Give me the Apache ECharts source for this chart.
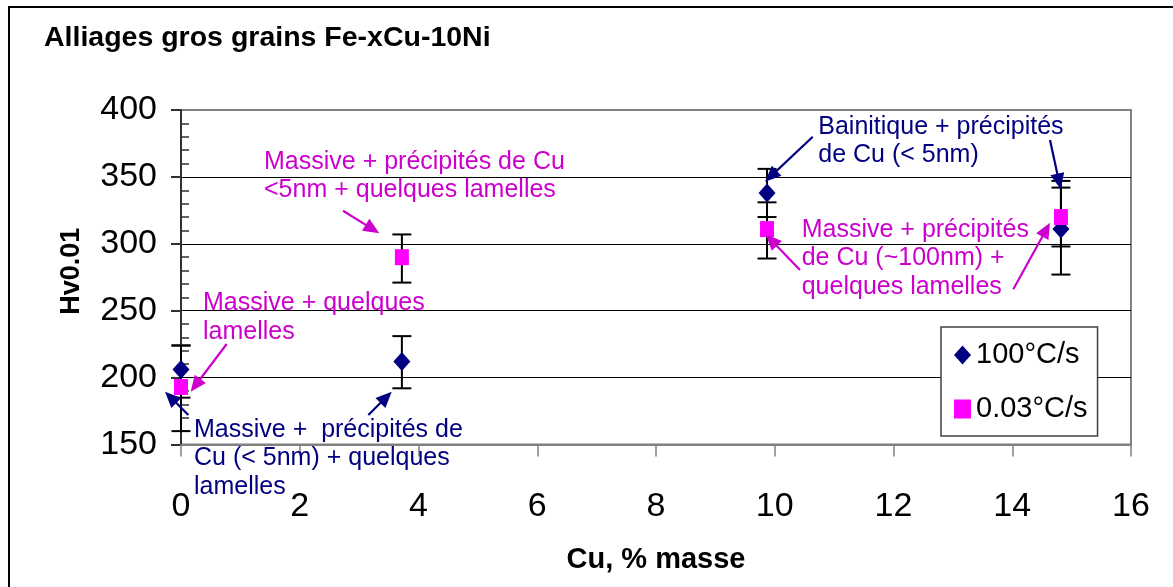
<!DOCTYPE html>
<html>
<head>
<meta charset="utf-8">
<script src="https://cdn.jsdelivr.net/npm/echarts@6/dist/echarts.min.js"></script>
<style>
html,body{margin:0;padding:0;background:#fff;}
#c{width:1173px;height:587px;}
</style>
</head>
<body>
<div id="c"></div>
<script>
// ---- data ----
const xTicks = [0, 2, 4, 6, 8, 10, 12, 14, 16];
const yTicks = [150, 200, 250, 300, 350, 400];

const cuFast = [0, 3.72, 9.87, 14.82];
const hvFast = [206, 212, 338, 311];
const hvFastLow = [185, 192, 320, 277];
const hvFastHigh = [224, 231, 356, 347];

const cuSlow = [0, 3.72, 9.87, 14.82];
const hvSlow = [193, 290, 311, 320];
const hvSlowLow = [160, 271, 289, 298];
const hvSlowHigh = [224, 307, 331, 342];

const seriesNames = ['100°C/s', '0.03°C/s'];

// annotation texts (first-line baseline anchor in data units)
const noteTexts = [
  ['Massive + précipités de Cu', '<5nm + quelques lamelles'],
  ['Massive + quelques', 'lamelles'],
  ['Massive +  précipités de', 'Cu (< 5nm) + quelques', 'lamelles'],
  ['Bainitique + précipités', 'de Cu (< 5nm)'],
  ['Massive + précipités', 'de Cu (~100nm) +', 'quelques lamelles']
];
const noteColorKey = ['slow', 'slow', 'fast', 'fast', 'slow'];
const noteAnchorX = [1.398, 0.371, 0.219, 10.733, 10.454];
const noteAnchorY = [355.2, 249.3, 154.6, 381.3, 304.1];

// arrows: start -> end (data units)
const arrowColorKey = ['slow', 'slow', 'fast', 'fast', 'fast', 'fast', 'slow', 'slow'];
const arrowX0 = [2.728, 0.770, 0.123, 3.155, 10.64, 14.636, 10.425, 14.018];
const arrowY0 = [324.7, 225.1, 172.0, 172.0, 380.0, 377.6, 280.4, 266.0];
const arrowX1 = [3.340, 0.163, -0.269, 3.549, 9.836, 14.816, 9.848, 14.636];
const arrowY1 = [307.9, 189.5, 189.5, 189.5, 346.4, 340.7, 307.1, 315.8];

// ---- styles ----
const SANS = "'Liberation Sans', Arial, sans-serif";
const COL = { fast: '#000080', slow: '#CC00CC' };

const chart = echarts.init(document.getElementById('c'), null, { renderer: 'canvas' });

function errItem(params, api) {
  const x = api.value(0);
  const pLo = api.coord([x, api.value(1)]);
  const pHi = api.coord([x, api.value(2)]);
  const hw = 9.5;
  const st = { stroke: '#000', lineWidth: 2 };
  return {
    type: 'group',
    children: [
      { type: 'line', shape: { x1: pLo[0], y1: pLo[1], x2: pHi[0], y2: pHi[1] }, style: st },
      { type: 'line', shape: { x1: pLo[0] - hw, y1: pLo[1], x2: pLo[0] + hw, y2: pLo[1] }, style: st },
      { type: 'line', shape: { x1: pHi[0] - hw, y1: pHi[1], x2: pHi[0] + hw, y2: pHi[1] }, style: st }
    ]
  };
}

const option = {
  animation: false,
  backgroundColor: '#fff',
  title: {
    text: 'Alliages gros grains Fe-xCu-10Ni',
    left: 44, top: 24, padding: 0,
    textStyle: { fontFamily: SANS, fontWeight: 'bold', fontSize: 28.5, color: '#000' }
  },
  grid: {
    left: 181, top: 110, right: 42, bottom: 142.5,
    show: true, borderColor: '#808080', borderWidth: 2, backgroundColor: '#fff'
  },
  legend: {
    orient: 'vertical', left: 941, top: 327,
    padding: [10, 10, 9, 13],
    itemWidth: 17, itemHeight: 19, itemGap: 18, itemTextGap: 10,
    backgroundColor: '#fff', borderColor: '#404040', borderWidth: 1.5,
    textStyle: { fontFamily: SANS, fontSize: 29, lineHeight: 36, color: '#000' },
    data: [
      { name: seriesNames[0], icon: 'diamond' },
      { name: seriesNames[1], icon: 'rect' }
    ]
  },
  xAxis: {
    type: 'value', min: xTicks[0], max: xTicks[xTicks.length - 1], interval: xTicks[1] - xTicks[0],
    axisLine: { show: true, onZero: false, lineStyle: { color: '#808080', width: 2 } },
    axisTick: { show: true, length: 12, lineStyle: { color: '#808080', width: 1.5 } },
    splitLine: { show: false },
    axisLabel: { fontFamily: SANS, fontSize: 34, color: '#000', margin: 45 },
    name: 'Cu, % masse', nameLocation: 'middle', nameGap: 101,
    nameTextStyle: { fontFamily: SANS, fontWeight: 'bold', fontSize: 29, color: '#000' }
  },
  yAxis: [{
    type: 'value', min: yTicks[0], max: yTicks[yTicks.length - 1], interval: yTicks[1] - yTicks[0],
    axisLine: { show: true, lineStyle: { color: '#303030', width: 2 } },
    axisTick: { show: true, length: 10, lineStyle: { color: '#303030', width: 2 } },
    splitLine: { show: true, lineStyle: { color: ['#808080', '#000', '#000', '#000', '#000', '#808080'], width: 1 } },
    axisLabel: { fontFamily: SANS, fontSize: 34, color: '#000', margin: 24 },
    name: 'Hv0.01', nameLocation: 'middle', nameGap: 96, nameRotate: 90,
    nameTextStyle: { fontFamily: SANS, fontWeight: 'bold', fontSize: 27, color: '#000', padding: [0, 0, 0, 12] }
  }, {
    type: 'value', min: yTicks[0], max: yTicks[yTicks.length - 1], interval: yTicks[1] - yTicks[0],
    position: 'left',
    axisLine: { show: false },
    axisTick: { show: false, inside: true },
    axisLabel: { show: false },
    splitLine: { show: false },
    minorTick: { show: true, splitNumber: 5, length: 8, lineStyle: { color: '#303030', width: 1.5 } }
  }],
  series: [
    {
      name: 'errFast', type: 'custom', renderItem: errItem, z: 2,
      encode: { x: 0, y: [1, 2] },
      data: cuFast.map((x, i) => [x, hvFastLow[i], hvFastHigh[i]])
    },
    {
      name: 'errSlow', type: 'custom', renderItem: errItem, z: 2,
      encode: { x: 0, y: [1, 2] },
      data: cuSlow.map((x, i) => [x, hvSlowLow[i], hvSlowHigh[i]])
    },
    {
      name: seriesNames[0], type: 'scatter', symbol: 'diamond', symbolSize: [17, 19], z: 3,
      itemStyle: { color: '#000080', opacity: 1 },
      data: cuFast.map((x, i) => [x, hvFast[i]])
    },
    {
      name: seriesNames[1], type: 'scatter', symbol: 'rect', symbolSize: [14, 16], z: 4,
      itemStyle: { color: '#FF00FF', opacity: 1 },
      data: cuSlow.map((x, i) => [x, hvSlow[i]])
    }
  ]
};

chart.setOption(option);

// annotations placed from data coordinates
const toPx = (x, y) => chart.convertToPixel({ gridIndex: 0 }, [x, y]);
const gfx = [];
gfx.push({ type: 'rect', shape: { x: 9, y: 7, width: 1400, height: 800 }, style: { fill: null, stroke: '#000', lineWidth: 2 }, z: 100, silent: true });

const FS = 25, LINE = 28.5;
noteTexts.forEach((lines, k) => {
  const p = toPx(noteAnchorX[k], noteAnchorY[k]);
  lines.forEach((t, j) => {
    gfx.push({
      type: 'text', z: 100, silent: true,
      style: {
        text: t, x: p[0], y: p[1] + j * LINE - 0.33 * FS,
        font: FS + "px " + SANS, fill: COL[noteColorKey[k]],
        textAlign: 'left', textVerticalAlign: 'middle', verticalAlign: 'middle'
      }
    });
  });
});

arrowX0.forEach((_, k) => {
  const s = toPx(arrowX0[k], arrowY0[k]);
  const e = toPx(arrowX1[k], arrowY1[k]);
  const dx = e[0] - s[0], dy = e[1] - s[1];
  const len = Math.hypot(dx, dy);
  const ux = dx / len, uy = dy / len;
  const L = 16, W = 7;
  const bx = e[0] - ux * L, by = e[1] - uy * L;
  const c = COL[arrowColorKey[k]];
  gfx.push({ type: 'line', z: 100, silent: true, shape: { x1: s[0], y1: s[1], x2: bx + ux * 2, y2: by + uy * 2 }, style: { stroke: c, lineWidth: 2.2 } });
  gfx.push({
    type: 'polygon', z: 100, silent: true,
    shape: { points: [[e[0], e[1]], [bx - uy * W, by + ux * W], [bx + uy * W, by - ux * W]] },
    style: { fill: c }
  });
});

chart.setOption({ graphic: gfx });
</script>
</body>
</html>
